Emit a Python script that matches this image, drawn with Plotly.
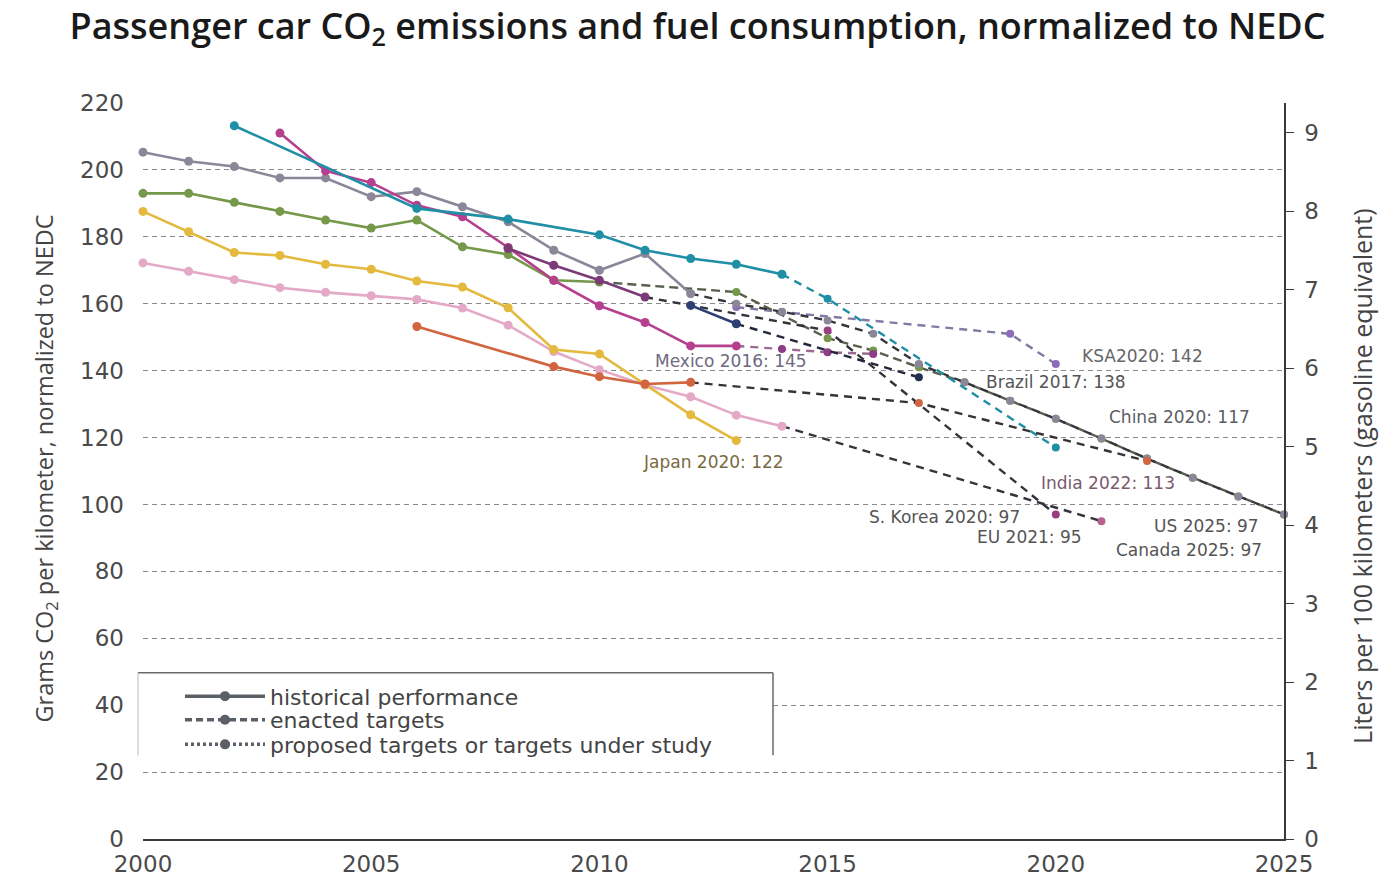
import plotly.graph_objects as go

# ---- fleet-average CO2 (g/km, NEDC-normalised) ----
us_hist_years = [2000, 2001, 2002, 2003, 2004, 2005, 2006, 2007, 2008, 2009, 2010, 2011, 2012]
us_hist_vals = [205.3, 202.6, 201.0, 197.6, 197.6, 192.0, 193.5, 189.0, 184.5, 176.0, 170.0, 175.0, 163.0]
us_tgt_years = [2012, 2013, 2014, 2015, 2016, 2017, 2018, 2019, 2020, 2021, 2022, 2023, 2024, 2025]
us_tgt_vals = [163.0, 160.0, 157.6, 155.0, 151.0, 142.0, 136.5, 131.0, 125.6, 119.7, 113.7, 108.0, 102.4, 97.0]

canada_hist_years = [2000, 2001, 2002, 2003, 2004, 2005, 2006, 2007, 2008, 2009, 2010]
canada_hist_vals = [193.0, 193.0, 190.3, 187.6, 185.0, 182.6, 185.0, 177.0, 174.7, 167.0, 166.5]
canada_tgt_years = [2010, 2013, 2015, 2016, 2017, 2018, 2019, 2020, 2021, 2022, 2023, 2024, 2025]
canada_tgt_vals = [166.5, 163.5, 149.7, 146.0, 141.0, 136.5, 131.0, 125.6, 119.7, 113.7, 108.0, 102.4, 97.0]

japan_hist_years = list(range(2000, 2014))
japan_hist_vals = [187.6, 181.5, 175.3, 174.4, 171.8, 170.3, 166.8, 165.0, 158.8, 146.3, 145.0, 135.9, 126.8, 119.1]

eu_hist_years = list(range(2000, 2015))
eu_hist_vals = [172.2, 169.7, 167.2, 164.8, 163.4, 162.4, 161.3, 158.7, 153.6, 145.7, 140.3, 135.7, 132.2, 126.7, 123.4]
eu_tgt_years = [2014, 2021]
eu_tgt_vals = [123.4, 95.0]

china_hist_years = [2002, 2006, 2008, 2010, 2011, 2012, 2013, 2014]
china_hist_vals = [213.2, 188.5, 185.3, 180.6, 176.0, 173.5, 171.8, 168.8]
china_tgt_years = [2014, 2015, 2020]
china_tgt_vals = [168.8, 161.5, 117.0]

mexico_hist_years = list(range(2003, 2014))
mexico_hist_vals = [211.0, 199.7, 196.2, 189.4, 186.0, 176.8, 167.0, 159.4, 154.4, 147.4, 147.4]
mexico_tgt_years = [2013, 2014, 2015, 2016]
mexico_tgt_vals = [147.4, 146.5, 145.5, 145.0]

korea_hist_years = [2008, 2009, 2010, 2011]
korea_hist_vals = [176.5, 171.5, 167.0, 162.0]
korea_tgt_years = [2011, 2015, 2020]
korea_tgt_vals = [162.0, 152.0, 97.0]

india_hist_years = [2006, 2009, 2010, 2011, 2012]
india_hist_vals = [153.2, 141.2, 138.2, 136.0, 136.5]
india_tgt_years = [2012, 2017, 2022]
india_tgt_vals = [136.5, 130.3, 113.0]

brazil_hist_years = [2012, 2013]
brazil_hist_vals = [159.5, 154.0]
brazil_tgt_years = [2013, 2017]
brazil_tgt_vals = [154.0, 138.0]

ksa_tgt_years = [2013, 2014, 2019, 2020]
ksa_tgt_vals = [159.0, 157.5, 151.0, 142.0]

# target labels: (text, x year, y g/km, colour)
target_labels = [
    ("Mexico 2016: 145", 2012.88, 143.0, "#6e6a80"),
    ("Japan 2020: 122", 2012.49, 112.6, "#7a6a40"),
    ("KSA2020: 142", 2021.91, 144.4, "#666666"),
    ("Brazil 2017: 138", 2020.0, 136.5, "#555555"),
    ("China 2020: 117", 2022.70, 126.2, "#5a5f66"),
    ("India 2022: 113", 2021.14, 106.5, "#7a5a6e"),
    ("S. Korea 2020: 97", 2017.57, 96.2, "#555555"),
    ("EU 2021: 95", 2019.43, 90.3, "#555555"),
    ("US 2025: 97", 2023.31, 93.5, "#555555"),
    ("Canada 2025: 97", 2022.92, 86.5, "#555555"),
]

# grams CO2/km per L/100 km (gasoline)
G_PER_L = 23.46
Y_MAX = 220

x_ticks = [2000, 2005, 2010, 2015, 2020, 2025]
y_ticks = list(range(0, 221, 20))
l_ticks = list(range(0, 10))

FONT = "DejaVu Sans"
TITLE_FONT = "Open Sans"

fig = go.Figure()

TARGET_DASH = "8px,6px"


def add_targets(xs, ys, line_color, marker_color, dash=TARGET_DASH):
    fig.add_trace(go.Scatter(
        x=xs, y=ys, mode="lines+markers", showlegend=False, hoverinfo="skip",
        line=dict(color=line_color, width=2.4, dash=dash),
        marker=dict(color=marker_color, size=8), cliponaxis=False))


def add_hist(xs, ys, color):
    fig.add_trace(go.Scatter(
        x=xs, y=ys, mode="lines+markers", showlegend=False, hoverinfo="skip",
        line=dict(color=color, width=2.6),
        marker=dict(color=color, size=9), cliponaxis=False))


# target lines first so the historical series sit on top
add_targets(ksa_tgt_years, ksa_tgt_vals, "#837aa3", "#8a6cb8")
add_targets(canada_tgt_years, canada_tgt_vals, "#56604c", "#76984a", dash="9px,5px")
add_targets(us_tgt_years, us_tgt_vals, "#35353b", "#8b8798")
add_targets(china_tgt_years, china_tgt_vals, "#1f8fa6", "#1f8fa6")
add_targets(mexico_tgt_years, mexico_tgt_vals, "#9b6a92", "#8d3d88")
add_targets(korea_tgt_years, korea_tgt_vals, "#34323a", "#9a3d80")
add_targets(india_tgt_years, india_tgt_vals, "#363333", "#d2643f")
add_targets(eu_tgt_years, eu_tgt_vals, "#36333a", "#b8608f")
add_targets(brazil_tgt_years, brazil_tgt_vals, "#22283a", "#23304f")

add_hist(us_hist_years, us_hist_vals, "#8b8798")
add_hist(canada_hist_years, canada_hist_vals, "#76984a")
add_hist(eu_hist_years, eu_hist_vals, "#e3a9c6")
add_hist(japan_hist_years, japan_hist_vals, "#e3b93e")
add_hist(india_hist_years, india_hist_vals, "#d2643f")
add_hist(mexico_hist_years, mexico_hist_vals, "#b6408f")
add_hist(korea_hist_years, korea_hist_vals, "#7b3a78")
add_hist(china_hist_years, china_hist_vals, "#1f8fa6")
add_hist(brazil_hist_years, brazil_hist_vals, "#2e3f73")

# same US history in L/100 km on the secondary scale (invisible, keeps y2 in sync)
fig.add_trace(go.Scatter(
    x=us_hist_years, y=[v / G_PER_L for v in us_hist_vals], yaxis="y2",
    mode="lines", opacity=0, showlegend=False, hoverinfo="skip"))

PX_L, PX_R, PX_T, PX_B = 143, 1284, 103, 851


def px_x(px):
    return (px - PX_L) / (PX_R - PX_L)


def px_y(py):
    return (PX_B - py) / (PX_B - PX_T)


# legend entries, one legend box per row so the rows sit tight together
legend_items = [
    ("historical performance", "solid", "legend", 706),
    ("enacted targets", "7px,4px", "legend2", 730),
    ("proposed targets or targets under study", "3px,3px", "legend3", 755),
]
legend_layout = {}
for name, dash, key, row_y in legend_items:
    fig.add_trace(go.Scatter(
        x=[None], y=[None], mode="lines+markers", name=name, legend=key,
        line=dict(color="#5b5f66", width=3.5, dash=dash),
        marker=dict(color="#5b5f66", size=10)))
    legend_layout[key] = dict(
        x=px_x(180), y=px_y(row_y), xanchor="left", yanchor="middle",
        bgcolor="rgba(0,0,0,0)", borderwidth=0, itemwidth=80,
        font=dict(family=FONT, size=22, color="#444444"))

# legend frame
shapes = [
    dict(type="rect", xref="paper", yref="paper", x0=px_x(138), x1=px_x(773),
         y0=px_y(766), y1=px_y(682), fillcolor="white", line=dict(width=0), layer="above"),
    dict(type="line", xref="paper", yref="paper", x0=px_x(138), x1=px_x(773),
         y0=px_y(682), y1=px_y(682), line=dict(color="#6a6a6a", width=1.5), layer="above"),
    dict(type="line", xref="paper", yref="paper", x0=px_x(773), x1=px_x(773),
         y0=px_y(682), y1=px_y(766), line=dict(color="#6a6a6a", width=1.5), layer="above"),
    dict(type="line", xref="paper", yref="paper", x0=px_x(138), x1=px_x(138),
         y0=px_y(682), y1=px_y(766), line=dict(color="#bbbbbb", width=1), layer="above"),
]

annotations = []
for text, x, y, col in target_labels:
    annotations.append(dict(x=x, y=y, xref="x", yref="y", text=text, showarrow=False,
                            font=dict(family=FONT, size=17, color=col)))

annotations.append(dict(
    x=px_x(26), y=px_y(475), xref="paper", yref="paper", textangle=-90, showarrow=False,
    text="Grams CO<sub>2</sub> per kilometer, normalized to NEDC",
    font=dict(family=TITLE_FONT, size=23.5, color="#444444")))
annotations.append(dict(
    x=px_x(1381), y=px_y(482), xref="paper", yref="paper", textangle=-90, showarrow=False,
    text="Liters per 100 kilometers (gasoline equivalent)",
    font=dict(family=TITLE_FONT, size=25, color="#444444")))

fig.update_layout(
    width=1395, height=889,
    margin=dict(l=PX_L, r=1395 - PX_R, t=PX_T, b=889 - PX_B),
    paper_bgcolor="white", plot_bgcolor="white",
    title=dict(text="Passenger car CO<sub>2</sub> emissions and fuel consumption, normalized to NEDC",
               x=0.5, xanchor="center", y=1 - 26 / 889, yanchor="middle", yref="container",
               font=dict(family=TITLE_FONT, size=36, color="#1a1a1a", weight=600)),
    xaxis=dict(range=[2000, 2025], tickvals=x_ticks, showgrid=False, zeroline=False,
               showline=True, linecolor="#3a3a3a", linewidth=1.5, ticks="",
               tickfont=dict(family=FONT, size=23, color="#4a4a4a"), ticklabelstandoff=4),
    yaxis=dict(range=[0, Y_MAX], tickvals=y_ticks, showgrid=True, gridcolor="#8a8a8a",
               gridwidth=1, griddash="5px,4px", zeroline=False, showline=False, ticks="",
               tickfont=dict(family=FONT, size=23, color="#4a4a4a"), ticklabelstandoff=18),
    yaxis2=dict(range=[0, Y_MAX / G_PER_L], tickvals=l_ticks, overlaying="y", side="right",
                showgrid=False, zeroline=False, showline=True, linecolor="#3a3a3a", linewidth=1.5,
                ticks="outside", ticklen=8, tickcolor="#3a3a3a",
                tickfont=dict(family=FONT, size=23, color="#4a4a4a"), ticklabelstandoff=6),
    shapes=shapes,
    annotations=annotations,
    showlegend=True,
    **legend_layout,
)

fig.write_html("out.html")
